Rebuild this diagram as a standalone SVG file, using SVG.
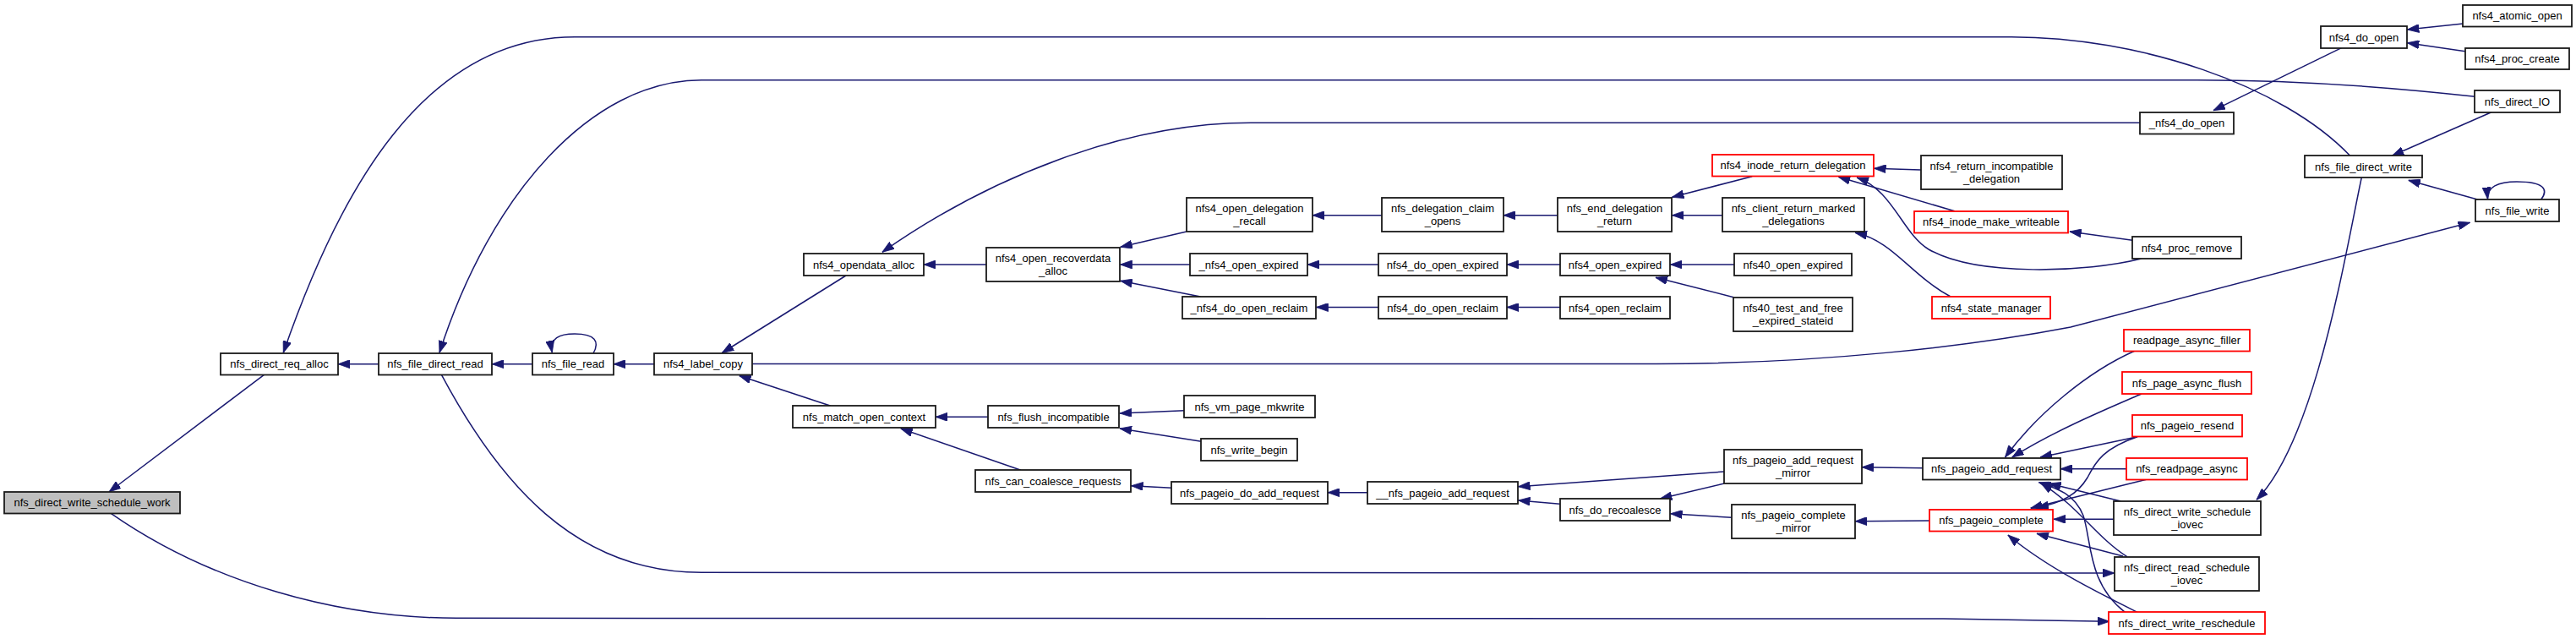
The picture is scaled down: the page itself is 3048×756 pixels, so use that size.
<svg xmlns="http://www.w3.org/2000/svg" width="3048" height="756" viewBox="0 0 3048 756">
<style>
.node rect{fill:#ffffff;stroke:#1a1a1a;stroke-width:1.8}
.node.red rect{stroke:#ff0000}
.node.root rect{fill:#bfbfbf}
.node text{font-family:"Liberation Sans",Arial,Helvetica,sans-serif;font-size:13px;text-anchor:middle;fill:#000000}
#edges path{fill:none;stroke:#191970;stroke-width:1.5;marker-end:url(#arr)}
</style>
<defs>
<marker id="arr" viewBox="0 0 14 10" refX="14" refY="5" markerWidth="14" markerHeight="10" markerUnits="userSpaceOnUse" orient="auto">
<path d="M0,0 L14,5 L0,10 z" fill="#191970" stroke="#191970" stroke-width="0.8"/>
</marker>
</defs>
<rect width="3048" height="756" fill="#ffffff"/>
<g id="edges">
<path d="M312.5,443.3 L129,582"/>
<path d="M448,430.7 L400,430.7"/>
<path d="M630,430.7 L582,430.7"/>
<path d="M702,418 C710,404 704,395 680,395 C662,395 650,400 653.3,417"/>
<path d="M774,430.7 L726,430.7"/>
<path d="M1001,326 L854.3,417.5"/>
<path d="M983,480.3 L874.7,444.5"/>
<path d="M1169,493.3 L1107,493.3"/>
<path d="M1208,556.3 L1065.7,507"/>
<path d="M1401.5,485.7 L1325,489"/>
<path d="M1421.4,522.3 L1325,507"/>
<path d="M1386.4,577.3 L1338.5,574.7"/>
<path d="M1618,582.7 L1571,582.7"/>
<path d="M2040,558 L1796.5,575.7"/>
<path d="M1845.7,596.3 L1796.5,592"/>
<path d="M2040,572 L1964.3,590"/>
<path d="M2048.8,612.3 L1976.5,607.7"/>
<path d="M2275,553.7 L2203,552.7"/>
<path d="M2283,616 L2195,616.7"/>
<path d="M522.4,443.3 C590,570 680,677.3 830,677.3 L2502,678"/>
<path d="M131.2,607.3 C250,690 400,731.3 540,731.3 L2300,732 L2496,735.3"/>
<path d="M2780.7,184.3 C2700,100 2530,43.7 2380,43.7 L680,43.7 C500,43.7 400,230 335.3,417.3"/>
<path d="M2928.4,114.3 C2800,100 2700,94.7 2600,94.7 L830,94.7 C700,94.7 580,230 520,417.3"/>
<path d="M890.3,430.5 L1960,430.5 C2150,430.5 2330,410 2450,387 L2922.6,263.3"/>
<path d="M1167,313 L1093,313"/>
<path d="M1404,274 L1325.7,292.3"/>
<path d="M1408,313 L1325.5,313"/>
<path d="M1420.5,351 L1325.7,332.3"/>
<path d="M2532.4,145.3 L1480,145.3 C1330,145.3 1170,210 1043.9,298.3"/>
<path d="M1635,254.7 L1553,254.7"/>
<path d="M1843,254.7 L1779,254.7"/>
<path d="M2073.2,208.7 L1978.4,233.3"/>
<path d="M2038,254.7 L1978.4,254.7"/>
<path d="M1631,313 L1547,313"/>
<path d="M1846,313 L1783,313"/>
<path d="M2052,313 L1976.4,313"/>
<path d="M2051.3,351.7 L1958.9,328.3"/>
<path d="M1631,363.5 L1557.5,363.5"/>
<path d="M1846,363.5 L1783,363.5"/>
<path d="M2272.9,201 L2217.5,199.3"/>
<path d="M2312.7,249.7 L2175.2,209.3"/>
<path d="M2523.1,284.3 L2448.8,274"/>
<path d="M2533.8,306 C2470,322 2340,328 2282,295 C2250,275 2240,225 2197,210"/>
<path d="M2308,351 C2260,325 2240,285 2195,275.3"/>
<path d="M2770.5,56.7 L2618.9,130.7"/>
<path d="M2914.3,28 L2848.3,35"/>
<path d="M2916.8,60.7 L2848.3,50.7"/>
<path d="M2947.9,132.7 L2830.3,184.3"/>
<path d="M2932.3,236.3 L2849.7,213.3"/>
<path d="M3006.7,236 C3016,224 3010,215 2978,215 C2956,215 2942,221 2943.5,235.5"/>
<path d="M2794.3,210 C2775,300 2740,520 2670,591.3"/>
<path d="M2525.6,415.3 C2470,440 2410,490 2372.5,541"/>
<path d="M2533.8,466 C2490,485 2430,510 2380.8,541"/>
<path d="M2529,516.7 L2414,541"/>
<path d="M2516,554.7 L2438,554.7"/>
<path d="M2509.5,593 L2424.5,572"/>
<path d="M2516.8,658.7 C2480,635 2460,600 2414.8,571.3"/>
<path d="M2514.4,724.3 C2470,690 2475,640 2465,610 C2455,585 2435,578 2412.4,570.7"/>
<path d="M2529,516.7 C2490,530 2480,545 2470,565 C2458,585 2440,595 2409.9,600.7"/>
<path d="M2539.7,567.3 L2402.6,601.3"/>
<path d="M2501,614.3 L2430,614.3"/>
<path d="M2512,658 L2409.9,631.3"/>
<path d="M2529,724.3 C2480,700 2420,670 2375.9,633"/>
</g>
<g id="n_nfs_direct_write_schedule_work" class="node root"><rect x="5" y="582" width="208" height="25.5"/><text x="109" y="599.2">nfs_direct_write_schedule_work</text></g>
<g id="n_nfs_direct_req_alloc" class="node"><rect x="261" y="418" width="139" height="25.5"/><text x="330.5" y="435.2">nfs_direct_req_alloc</text></g>
<g id="n_nfs_file_direct_read" class="node"><rect x="448" y="418" width="134" height="25.5"/><text x="515" y="435.2">nfs_file_direct_read</text></g>
<g id="n_nfs_file_read" class="node"><rect x="630" y="418" width="96" height="25.5"/><text x="678" y="435.2">nfs_file_read</text></g>
<g id="n_nfs4_label_copy" class="node"><rect x="774" y="418" width="116" height="25.5"/><text x="832" y="435.2">nfs4_label_copy</text></g>
<g id="n_nfs4_opendata_alloc" class="node"><rect x="951" y="300" width="142" height="26"/><text x="1022" y="317.5">nfs4_opendata_alloc</text></g>
<g id="n_nfs_match_open_context" class="node"><rect x="938" y="480" width="169" height="26"/><text x="1022.5" y="497.5">nfs_match_open_context</text></g>
<g id="n_nfs4_open_recoverdata_alloc" class="node"><rect x="1167" y="293" width="158" height="40"/><text x="1246" y="309.5">nfs4_open_recoverdata</text><text x="1246" y="324.5">_alloc</text></g>
<g id="n_nfs_flush_incompatible" class="node"><rect x="1169" y="480" width="155" height="26"/><text x="1246.5" y="497.5">nfs_flush_incompatible</text></g>
<g id="n_nfs_can_coalesce_requests" class="node"><rect x="1154" y="556" width="184" height="26"/><text x="1246" y="573.5">nfs_can_coalesce_requests</text></g>
<g id="n_nfs4_open_delegation_recall" class="node"><rect x="1404" y="234" width="149" height="40"/><text x="1478.5" y="250.5">nfs4_open_delegation</text><text x="1478.5" y="265.5">_recall</text></g>
<g id="n__nfs4_open_expired" class="node"><rect x="1408" y="300" width="139" height="26"/><text x="1477.5" y="317.5">_nfs4_open_expired</text></g>
<g id="n__nfs4_do_open_reclaim" class="node"><rect x="1399" y="351" width="158" height="26"/><text x="1478" y="368.5">_nfs4_do_open_reclaim</text></g>
<g id="n_nfs_vm_page_mkwrite" class="node"><rect x="1401" y="468" width="155" height="26"/><text x="1478.5" y="485.5">nfs_vm_page_mkwrite</text></g>
<g id="n_nfs_write_begin" class="node"><rect x="1421" y="519" width="114" height="26"/><text x="1478" y="536.5">nfs_write_begin</text></g>
<g id="n_nfs_pageio_do_add_request" class="node"><rect x="1386" y="570" width="185" height="26"/><text x="1478.5" y="587.5">nfs_pageio_do_add_request</text></g>
<g id="n_nfs_delegation_claim_opens" class="node"><rect x="1635" y="234" width="144" height="40"/><text x="1707" y="250.5">nfs_delegation_claim</text><text x="1707" y="265.5">_opens</text></g>
<g id="n_nfs4_do_open_expired" class="node"><rect x="1631" y="300" width="152" height="26"/><text x="1707" y="317.5">nfs4_do_open_expired</text></g>
<g id="n_nfs4_do_open_reclaim" class="node"><rect x="1631" y="351" width="152" height="26"/><text x="1707" y="368.5">nfs4_do_open_reclaim</text></g>
<g id="n___nfs_pageio_add_request" class="node"><rect x="1618" y="570" width="178" height="26"/><text x="1707" y="587.5">__nfs_pageio_add_request</text></g>
<g id="n_nfs_end_delegation_return" class="node"><rect x="1843" y="234" width="135" height="40"/><text x="1910.5" y="250.5">nfs_end_delegation</text><text x="1910.5" y="265.5">_return</text></g>
<g id="n_nfs4_open_expired" class="node"><rect x="1846" y="300" width="130" height="26"/><text x="1911" y="317.5">nfs4_open_expired</text></g>
<g id="n_nfs4_open_reclaim" class="node"><rect x="1846" y="351" width="130" height="26"/><text x="1911" y="368.5">nfs4_open_reclaim</text></g>
<g id="n_nfs_do_recoalesce" class="node"><rect x="1846" y="590" width="130" height="26"/><text x="1911" y="607.5">nfs_do_recoalesce</text></g>
<g id="n_nfs4_inode_return_delegation" class="node red"><rect x="2026" y="183" width="191" height="25.5"/><text x="2121.5" y="200.2">nfs4_inode_return_delegation</text></g>
<g id="n_nfs_client_return_marked_delegations" class="node"><rect x="2038" y="234" width="168" height="40"/><text x="2122" y="250.5">nfs_client_return_marked</text><text x="2122" y="265.5">_delegations</text></g>
<g id="n_nfs40_open_expired" class="node"><rect x="2052" y="300" width="139" height="26"/><text x="2121.5" y="317.5">nfs40_open_expired</text></g>
<g id="n_nfs40_test_and_free_expired_stateid" class="node"><rect x="2051" y="352" width="141" height="40"/><text x="2121.5" y="368.5">nfs40_test_and_free</text><text x="2121.5" y="383.5">_expired_stateid</text></g>
<g id="n_nfs_pageio_add_request_mirror" class="node"><rect x="2040" y="532" width="163" height="40"/><text x="2121.5" y="548.5">nfs_pageio_add_request</text><text x="2121.5" y="563.5">_mirror</text></g>
<g id="n_nfs_pageio_complete_mirror" class="node"><rect x="2049" y="597" width="146" height="40"/><text x="2122" y="613.5">nfs_pageio_complete</text><text x="2122" y="628.5">_mirror</text></g>
<g id="n_nfs4_return_incompatible_delegation" class="node"><rect x="2273" y="184" width="167" height="40"/><text x="2356.5" y="200.5">nfs4_return_incompatible</text><text x="2356.5" y="215.5">_delegation</text></g>
<g id="n_nfs4_inode_make_writeable" class="node red"><rect x="2265" y="250" width="182" height="25.5"/><text x="2356" y="267.2">nfs4_inode_make_writeable</text></g>
<g id="n_nfs4_state_manager" class="node red"><rect x="2286" y="351" width="140" height="26"/><text x="2356" y="368.5">nfs4_state_manager</text></g>
<g id="n_nfs_pageio_add_request" class="node"><rect x="2275" y="542" width="163" height="25.5"/><text x="2356.5" y="559.2">nfs_pageio_add_request</text></g>
<g id="n_nfs_pageio_complete" class="node red"><rect x="2283" y="603" width="146" height="25.5"/><text x="2356" y="620.2">nfs_pageio_complete</text></g>
<g id="n__nfs4_do_open" class="node"><rect x="2532" y="133" width="111" height="25.5"/><text x="2587.5" y="150.2">_nfs4_do_open</text></g>
<g id="n_nfs4_proc_remove" class="node"><rect x="2523" y="280" width="129" height="26"/><text x="2587.5" y="297.5">nfs4_proc_remove</text></g>
<g id="n_readpage_async_filler" class="node red"><rect x="2513" y="390" width="149" height="25.5"/><text x="2587.5" y="407.2">readpage_async_filler</text></g>
<g id="n_nfs_page_async_flush" class="node red"><rect x="2511" y="440" width="153" height="26"/><text x="2587.5" y="457.5">nfs_page_async_flush</text></g>
<g id="n_nfs_pageio_resend" class="node red"><rect x="2523" y="491" width="130" height="25.5"/><text x="2588" y="508.2">nfs_pageio_resend</text></g>
<g id="n_nfs_readpage_async" class="node red"><rect x="2516" y="542" width="143" height="25.5"/><text x="2587.5" y="559.2">nfs_readpage_async</text></g>
<g id="n_nfs_direct_write_schedule_iovec" class="node"><rect x="2501" y="593" width="174" height="40"/><text x="2588" y="609.5">nfs_direct_write_schedule</text><text x="2588" y="624.5">_iovec</text></g>
<g id="n_nfs_direct_read_schedule_iovec" class="node"><rect x="2502" y="659" width="171" height="40"/><text x="2587.5" y="675.5">nfs_direct_read_schedule</text><text x="2587.5" y="690.5">_iovec</text></g>
<g id="n_nfs_direct_write_reschedule" class="node red"><rect x="2495" y="724" width="185" height="26"/><text x="2587.5" y="741.5">nfs_direct_write_reschedule</text></g>
<g id="n_nfs_file_direct_write" class="node"><rect x="2727" y="184" width="139" height="26"/><text x="2796.5" y="201.5">nfs_file_direct_write</text></g>
<g id="n_nfs4_do_open" class="node"><rect x="2746" y="31" width="102" height="26"/><text x="2797" y="48.5">nfs4_do_open</text></g>
<g id="n_nfs_direct_IO" class="node"><rect x="2928" y="107" width="101" height="26"/><text x="2978.5" y="124.5">nfs_direct_IO</text></g>
<g id="n_nfs_file_write" class="node"><rect x="2929" y="236" width="99" height="26"/><text x="2978.5" y="253.5">nfs_file_write</text></g>
<g id="n_nfs4_atomic_open" class="node"><rect x="2914" y="6" width="129" height="25.5"/><text x="2978.5" y="23.2">nfs4_atomic_open</text></g>
<g id="n_nfs4_proc_create" class="node"><rect x="2917" y="57" width="123" height="25"/><text x="2978.5" y="74">nfs4_proc_create</text></g>
</svg>
